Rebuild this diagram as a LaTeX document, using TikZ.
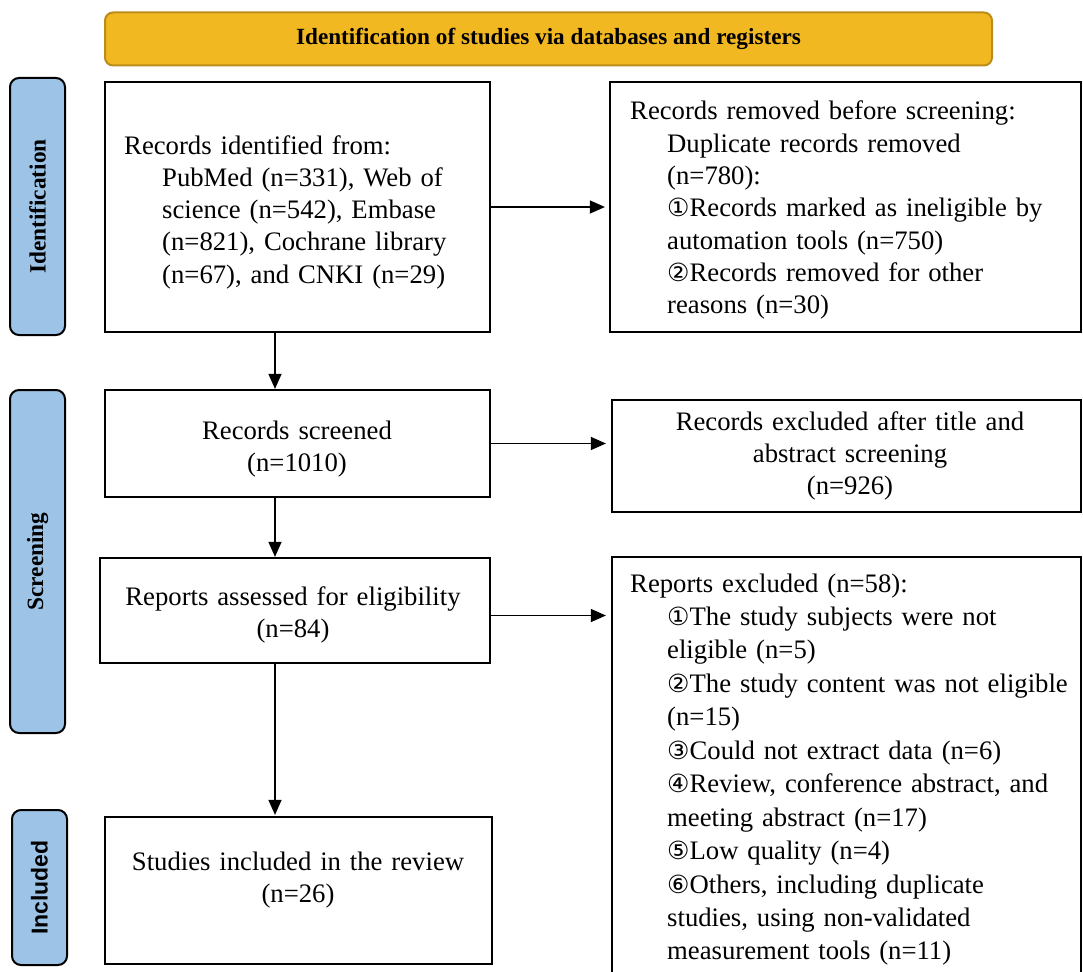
\documentclass[tikz,border=0pt]{standalone}
\usepackage{fontspec}
\setmainfont{Liberation Serif}
\newfontfamily\circfont{DejaVu Sans}
\newfontfamily\arialfont{Liberation Sans}
\usetikzlibrary{arrows.meta,calc}
\definecolor{gold}{HTML}{F2B822}
\definecolor{goldedge}{HTML}{BC8C1A}
\definecolor{phaseblue}{HTML}{9DC3E6}
\newcommand{\cnum}[1]{{\circfont\fontsize{25}{25}\selectfont #1}}
\begin{document}
\begin{tikzpicture}[x=1pt,y=-1pt,
  box/.style={draw,line width=2.2pt,inner sep=0pt},
  phase/.style={draw,line width=2pt,rounded corners=9pt,fill=phaseblue,inner sep=0pt},
  phasetext/.style={rotate=90,font=\fontsize{23.3}{23.3}\selectfont\bfseries,inner sep=0pt},
  txt/.style={font=\fontsize{26.7}{32.3}\selectfont,inner sep=0pt},
  arr/.style={line width=1.3pt,-{Triangle[length=15pt,width=13pt]}}]
\useasboundingbox (0,0) rectangle (1083,971);
% banner
\node[draw=goldedge,fill=gold,line width=2pt,rounded corners=8pt,minimum width=887pt,minimum height=53pt,inner sep=0pt,font=\fontsize{23.2}{23.2}\selectfont\bfseries] (banner) at (548.5,39) {Identification of studies via databases and registers};
% phase labels
\node[phase,minimum width=55pt,minimum height=257pt] (pid) at (37.5,206.5) {};
\node[phasetext] (pidt) at (pid.center) {Identification};
\node[phase,minimum width=55pt,minimum height=343pt] (psc) at (37.5,561.5) {};
\node[phasetext] (psct) at (psc.center) {Screening};
\node[phase,minimum width=55pt,minimum height=155pt] (pin) at (39.5,887.5) {};
\node[phasetext,font=\fontsize{23}{23}\selectfont\arialfont\bfseries] (pint) at (pin.center) {Included};
% boxes
\node[box,minimum width=385pt,minimum height=250pt] (b1) at (297.5,207) {};
\node[box,minimum width=471pt,minimum height=250pt] (b2) at (845.5,207) {};
\node[box,minimum width=385pt,minimum height=107pt] (b3) at (297.5,443.5) {};
\node[box,minimum width=469pt,minimum height=112pt] (b4) at (846.5,456) {};
\node[box,minimum width=390pt,minimum height=105pt] (b5) at (295,610.5) {};
\node[box,minimum width=469pt,minimum height=430pt] (b6) at (846.5,772) {};
\node[box,minimum width=387pt,minimum height=147pt] (b7) at (298.5,890.5) {};
% texts
\node[txt,anchor=base west,text width=380pt,align=left] (t1) at (124,154) {Records identified from:\\
\hspace*{38pt}PubMed (n=331), Web of\\
\hspace*{38pt}science (n=542), Embase\\
\hspace*{38pt}(n=821), Cochrane library\\
\hspace*{38pt}(n=67), and CNKI (n=29)};
\node[txt,anchor=base west,text width=452pt,align=left] (t2) at (630,120) {Records removed before screening:\\
\hspace*{37pt}Duplicate records removed\\
\hspace*{37pt}(n=780):\\
\hspace*{37pt}\cnum{①}Records marked as ineligible by\\
\hspace*{37pt}automation tools (n=750)\\
\hspace*{37pt}\cnum{②}Records removed for other\\
\hspace*{37pt}reasons (n=30)};
\node[txt,anchor=base,text width=440pt,align=center] (t3) at (297,439) {Records screened\\(n=1010)};
\node[txt,anchor=base,text width=460pt,align=center] (t4) at (850,430) {Records excluded after title and\\abstract screening\\(n=926)};
\node[txt,anchor=base,text width=440pt,align=center] (t5) at (293,605) {Reports assessed for eligibility\\(n=84)};
\node[txt,anchor=base west,text width=452pt,align=left,font=\fontsize{26.7}{33.45}\selectfont] (t6) at (630,592) {Reports excluded (n=58):\\
\hspace*{37pt}\cnum{①}The study subjects were not\\
\hspace*{37pt}eligible (n=5)\\
\hspace*{37pt}\cnum{②}The study content was not eligible\\
\hspace*{37pt}(n=15)\\
\hspace*{37pt}\cnum{③}Could not extract data (n=6)\\
\hspace*{37pt}\cnum{④}Review, conference abstract, and\\
\hspace*{37pt}meeting abstract (n=17)\\
\hspace*{37pt}\cnum{⑤}Low quality (n=4)\\
\hspace*{37pt}\cnum{⑥}Others, including duplicate\\
\hspace*{37pt}studies, using non-validated\\
\hspace*{37pt}measurement tools (n=11)};
\node[txt,anchor=base,text width=440pt,align=center] (t7) at (298,870) {Studies included in the review\\(n=26)};
% arrows
\coordinate (vx) at (275,0);
\draw[arr,shorten >=4pt] (b1.east) -- (b2.west);
\draw[arr,shorten >=5pt] (b3.east) -- (b3.east -| b4.west);
\draw[arr,shorten >=5pt] ([yshift=-5pt]b5.east) -- ([yshift=-5pt]b5.east -| b6.west);
\draw[arr] (b1.south -| vx) -- (b3.north -| vx);
\draw[arr] (b3.south -| vx) -- (b5.north -| vx);
\draw[arr,shorten >=1pt] (b5.south -| vx) -- (b7.north -| vx);
\end{tikzpicture}
\end{document}
